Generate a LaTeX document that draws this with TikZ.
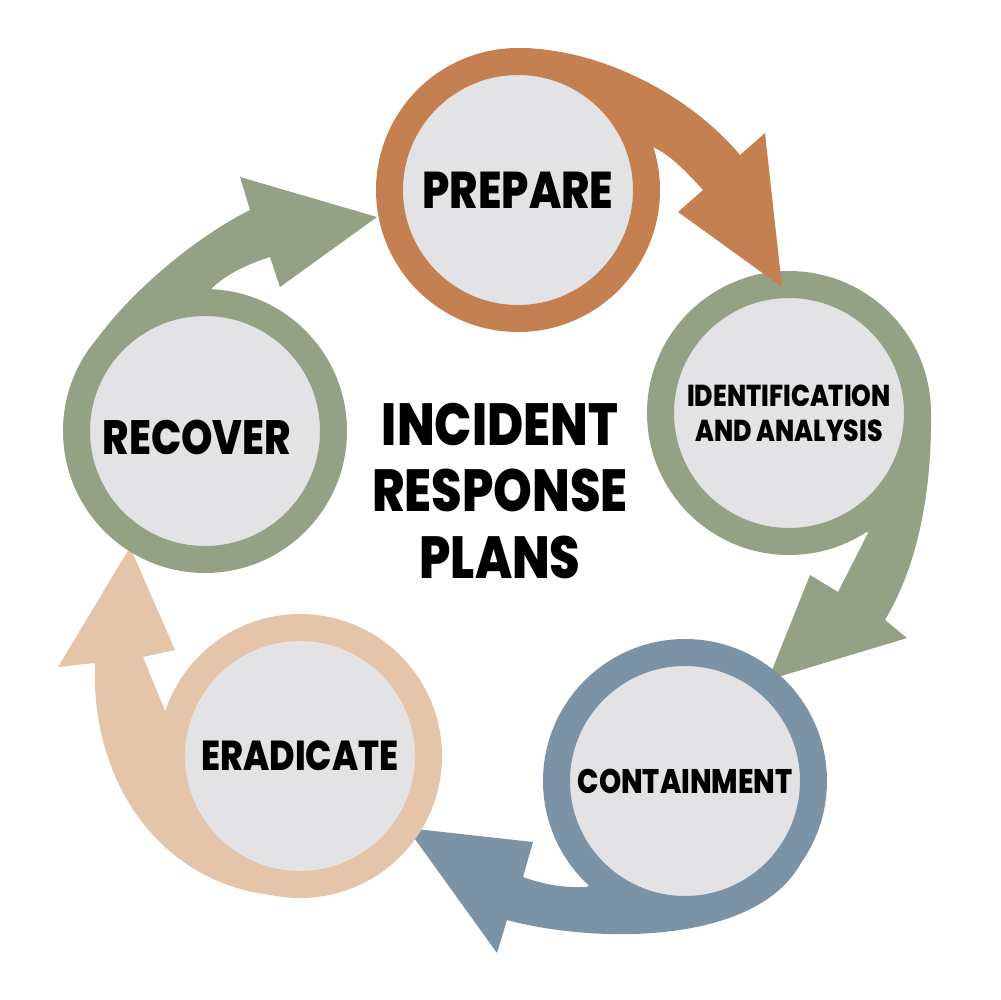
\documentclass[tikz,border=0pt]{standalone}
\usepackage{fontspec}
\setmainfont{Poppins}
\newfontfamily\stagefont{Poppins ExtraBold}[FakeStretch=0.83]
\definecolor{rust}{RGB}{196,128,80}
\definecolor{sage}{RGB}{148,161,133}
\definecolor{slate}{RGB}{124,147,166}
\definecolor{sand}{RGB}{229,197,170}
\definecolor{mist}{RGB}{227,227,229}
\tikzset{
  stage/.style={circle, fill=mist, line width=2.7mm, minimum size=25.7mm,
    inner sep=0pt, align=center},
  heading/.style={align=center, font=\stagefont\fontsize{16.9}{18.8}\selectfont}
}

\begin{document}
\begin{tikzpicture}[x=0.1mm, y=-0.1mm]
\useasboundingbox (0,0) rectangle (1000,1000);
% arrow bodies, under the rings
\fill[sage] (789,413) -- (931,413) .. controls (932,500) and (915,570) .. (885,620)
  -- (907,638) -- (768,680) -- (810,575) -- (838,592) -- (868,533) -- cycle;
\fill[slate] (685,781) -- (806,852) .. controls (770,945) and (600,945) .. (507,920)
  -- (497,953) -- (407,828) -- (533,842) -- (523,877)
  .. controls (545,885) and (565,888) .. (587,887) -- cycle;
\fill[sand] (300,756) -- (300,896) .. controls (180,900) and (90,800) .. (95,663)
  -- (58,667) -- (130,547) -- (175,650) -- (143,657) -- (168,718) -- cycle;
\fill[sage] (205,431) -- (78,371) .. controls (100,320) and (180,245) .. (250,210)
  -- (240,177) -- (377,217) -- (280,287) -- (270,257)
  .. controls (245,265) and (225,275) .. (210,290) -- cycle;

% stages
\node[stage, draw=sage, font=\stagefont\fontsize{8.6}{10}\selectfont]
  (ident) at (789,413) {IDENTIFICATION\\AND ANALYSIS};
\node[stage, draw=slate, font=\stagefont\fontsize{9.7}{11}\selectfont]
  (contain) at (685,781) {CONTAINMENT};
\node[stage, draw=sand, font=\stagefont\fontsize{11.9}{14}\selectfont]
  (eradicate) at (300,756) {ERADICATE};
\node[stage, draw=sage] (recover) at (205,431) {};
\node[font=\stagefont\fontsize{13.7}{16}\selectfont]
  (recover-text) at ([xshift=-0.8mm, yshift=-0.6mm]recover.center) {RECOVER};

% orange one goes over the green ring
\fill[rust] (518,190) -- (518,48) .. controls (600,48) and (690,95) .. (740,155)
  -- (765,133) -- (782,287) -- (678,212) -- (703,190)
  .. controls (685,170) and (670,155) .. (653,147) -- cycle;
\node[stage, draw=rust, font=\stagefont\fontsize{14.7}{17}\selectfont]
  (prepare) at (518,190) {PREPARE};

\node[heading] (plan) at (500,491) {INCIDENT\\RESPONSE\\PLANS};
\end{tikzpicture}
\end{document}
